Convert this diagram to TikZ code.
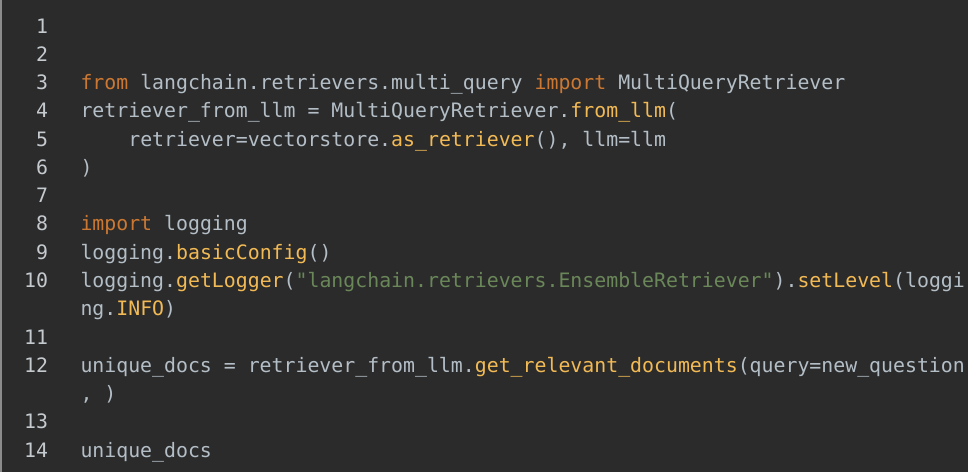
\documentclass[tikz,border=0pt]{standalone}
\usepackage{fontspec}
\setmonofont{DejaVu Sans Mono}
\definecolor{bgc}{HTML}{2B2B2B}
\definecolor{txt}{HTML}{B4BEC6}
\definecolor{lnum}{HTML}{C5CACF}
\definecolor{kwc}{HTML}{CC7832}
\definecolor{fnc}{HTML}{F2BA55}
\definecolor{strc}{HTML}{6A8759}
\definecolor{edge}{HTML}{8C8C8C}
\newcommand{\kw}[1]{\textcolor{kwc}{#1}}
\newcommand{\fn}[1]{\textcolor{fnc}{#1}}
\newcommand{\str}[1]{\textcolor{strc}{#1}}
\newcommand{\indentfour}{\hspace*{47.8pt}}
\tikzset{
  codeline/.style={anchor=base west, inner sep=0pt, outer sep=0pt, text=txt,
    font=\ttfamily\fontsize{19.85pt}{20pt}\selectfont},
  linenum/.style={anchor=base east, inner sep=0pt, outer sep=0pt, text=lnum,
    font=\ttfamily\fontsize{19.85pt}{20pt}\selectfont}
}
\begin{document}
\begin{tikzpicture}[x=1pt,y=-1pt]
\useasboundingbox (0,0) rectangle (968,472);
\fill[bgc] (0,0) rectangle (968,472);
\fill[edge] (0,0) rectangle (1.5,472);
\begin{scope}
\clip (0,0) rectangle (968,472);
% line numbers (row pitch 28.27)
\node[linenum] (ln1)  at (48,33.0)  {1};
\node[linenum] (ln2)  at (48,61.3)  {2};
\node[linenum] (ln3)  at (48,89.5)  {3};
\node[linenum] (ln4)  at (48,117.8) {4};
\node[linenum] (ln5)  at (48,146.1) {5};
\node[linenum] (ln6)  at (48,174.4) {6};
\node[linenum] (ln7)  at (48,202.6) {7};
\node[linenum] (ln8)  at (48,230.9) {8};
\node[linenum] (ln9)  at (48,259.2) {9};
\node[linenum] (ln10) at (48,287.4) {10};
\node[linenum] (ln11) at (48,344.0) {11};
\node[linenum] (ln12) at (48,372.2) {12};
\node[linenum] (ln13) at (48,428.8) {13};
\node[linenum] (ln14) at (48,457.0) {14};
% code
\node[codeline] (c3) at (80.5,89.5) {\kw{from} langchain.retrievers.multi\_query \kw{import} MultiQueryRetriever};
\node[codeline] (c4) at (80.5,117.8) {retriever\_from\_llm = MultiQueryRetriever.\fn{from\_llm}(};
\node[codeline] (c5) at (80.5,146.1) {\indentfour retriever=vectorstore.\fn{as\_retriever}(), llm=llm};
\node[codeline] (c6) at (80.5,174.4) {)};
\node[codeline] (c8) at (80.5,230.9) {\kw{import} logging};
\node[codeline] (c9) at (80.5,259.2) {logging.\fn{basicConfig}()};
\node[codeline] (c10) at (80.5,287.4) {logging.\fn{getLogger}(\str{"langchain.retrievers.EnsembleRetriever"}).\fn{setLevel}(loggi};
\node[codeline] (c10b) at (80.5,315.7) {ng.\fn{INFO})};
\node[codeline] (c12) at (80.5,372.2) {unique\_docs = retriever\_from\_llm.\fn{get\_relevant\_documents}(query=new\_question};
\node[codeline] (c12b) at (80.5,400.5) {, )};
\node[codeline] (c14) at (80.5,457.0) {unique\_docs};
\end{scope}
\end{tikzpicture}
\end{document}
